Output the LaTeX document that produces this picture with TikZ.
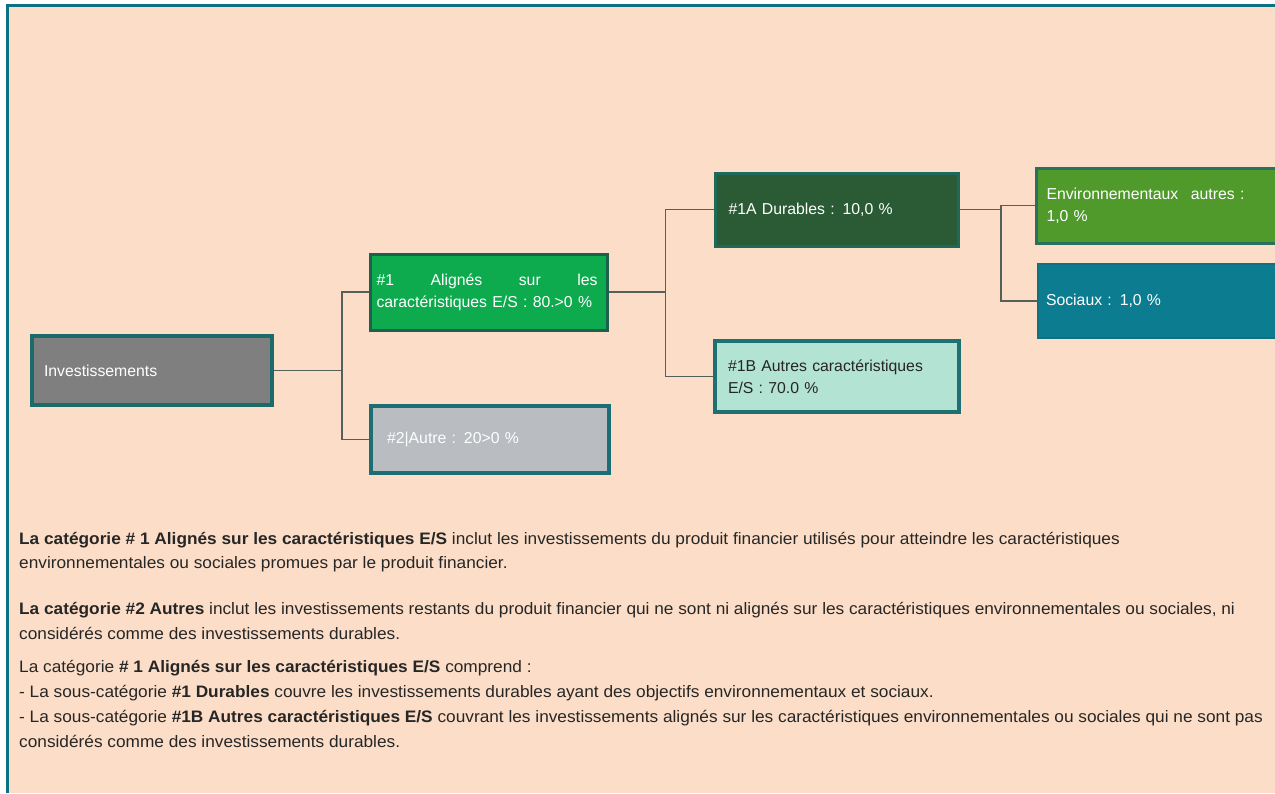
\documentclass[tikz,border=0pt]{standalone}
\usepackage{fontspec}
\setmainfont{Liberation Sans}
\newfontfamily\parfont[FakeStretch=1.04]{Liberation Sans}
\definecolor{peach}{HTML}{FCDEC8}
\definecolor{frame}{HTML}{0E7182}
\definecolor{invfill}{HTML}{7F7F80}
\definecolor{invline}{HTML}{1B6B68}
\definecolor{afill}{HTML}{0DAA4E}
\definecolor{aline}{HTML}{1E6050}
\definecolor{bfill}{HTML}{B9BCC1}
\definecolor{bline}{HTML}{1D6E74}
\definecolor{durfill}{HTML}{2A5B34}
\definecolor{durline}{HTML}{1D6A5A}
\definecolor{othfill}{HTML}{B2E3D3}
\definecolor{othline}{HTML}{1E7073}
\definecolor{envfill}{HTML}{4F9A2B}
\definecolor{envline}{HTML}{287060}
\definecolor{socfill}{HTML}{0C7D91}
\definecolor{socline}{HTML}{13707E}
\definecolor{conncol}{HTML}{55605A}
\definecolor{txt}{HTML}{262626}
\begin{document}
\begin{tikzpicture}[x=1pt,y=-1pt,
  boxnode/.style={rectangle, anchor=north west, inner ysep=0pt, align=left,
    font=\fontsize{15.8}{22}\selectfont, text=white},
  conn/.style={draw=conncol, line width=1.8pt},
  para/.style={anchor=base west, inner sep=0pt, text=txt,
    font=\parfont\fontsize{16.6}{20}\selectfont}]
\clip (0,0) rectangle (1275,793);
\fill[white] (0,0) rectangle (1275,793);
\fill[peach] (7.5,5.5) rectangle (1275,793);
\draw[frame, line width=3pt] (7.5,793) -- (7.5,5.5) -- (1275,5.5);

% boxes
\node[boxnode, draw=invline, fill=invfill, line width=4pt,
  minimum width=240pt, minimum height=69pt, inner xsep=12pt, text width=216pt]
  (inv) at (30,334) {Investissements};
\node[boxnode, draw=aline, fill=afill, line width=3pt,
  minimum width=237pt, minimum height=76pt, inner xsep=6.5pt, text width=224pt]
  (a1) at (368.5,252.5) {\makebox[221pt][s]{\#1\hfill Alignés\hfill sur\hfill les}\\caractéristiques E/S : 80.>0 \%};
\node[boxnode, draw=bline, fill=bfill, line width=4pt,
  minimum width=238pt, minimum height=67pt, inner xsep=16pt, text width=206pt]
  (a2) at (369,404) {\#2|Autre : 20>0 \%};
\node[boxnode, draw=durline, fill=durfill, line width=3pt,
  minimum width=243pt, minimum height=73pt, inner xsep=13.5pt, text width=216pt]
  (a1a) at (713.5,171.5) {\#1A Durables : 10,0 \%};
\node[boxnode, draw=othline, fill=othfill, line width=4pt, text=txt,
  minimum width=244pt, minimum height=71pt, inner xsep=13pt, text width=218pt]
  (a1b) at (713,339) {\#1B Autres caractéristiques\\E/S : 70.0 \%};
\node[boxnode, draw=envline, fill=envfill, line width=3pt,
  minimum width=260pt, minimum height=75pt, inner xsep=10.5pt, text width=239pt]
  (env) at (1034.5,166.5) {\makebox[198pt][s]{Environnementaux\hfill autres :}\\1,0 \%};
\node[boxnode, draw=socline, fill=socfill, line width=2pt,
  minimum width=260pt, minimum height=74pt, inner xsep=8pt, text width=244pt]
  (soc) at (1037,263) {Sociaux : 1,0 \%};

% connectors
\path (inv.east) ++(68,0) coordinate (j1);
\path (a1.east) ++(57,0) coordinate (j2);
\path (a1a.east) ++(41.5,0) coordinate (j3);
\draw[conn] (inv.east) -- (j1);
\draw[conn] (a1.west) -| (j1) |- (a2.west);
\draw[conn] (a1.east) -- (j2);
\draw[conn] (a1a.west) -| (j2) |- (a1b.west);
\draw[conn] (a1a.east) -- (j3);
\draw[conn] (env.west) -| (j3) |- (soc.west);

% text
\node[para] (p1) at (19,544) {\bfseries La catégorie \# 1 Alignés sur les caractéristiques E/S\mdseries{} inclut les investissements du produit financier utilisés pour atteindre les caractéristiques};
\node[para] (p2) at (19,568) {environnementales ou sociales promues par le produit financier.};
\node[para] (p3) at (19,614) {\bfseries La catégorie \#2 Autres\mdseries{} inclut les investissements restants du produit financier qui ne sont ni alignés sur les caractéristiques environnementales ou sociales, ni};
\node[para] (p4) at (19,639) {considérés comme des investissements durables.};
\node[para] (p5) at (19,672) {La catégorie \textbf{\# 1 Alignés sur les caractéristiques E/S} comprend :};
\node[para] (p6) at (19,697) {- La sous-catégorie \textbf{\#1 Durables} couvre les investissements durables ayant des objectifs environnementaux et sociaux.};
\node[para] (p7) at (19,722) {- La sous-catégorie \textbf{\#1B Autres caractéristiques E/S} couvrant les investissements alignés sur les caractéristiques environnementales ou sociales qui ne sont pas};
\node[para] (p8) at (19,747) {considérés comme des investissements durables.};
\end{tikzpicture}
\end{document}
